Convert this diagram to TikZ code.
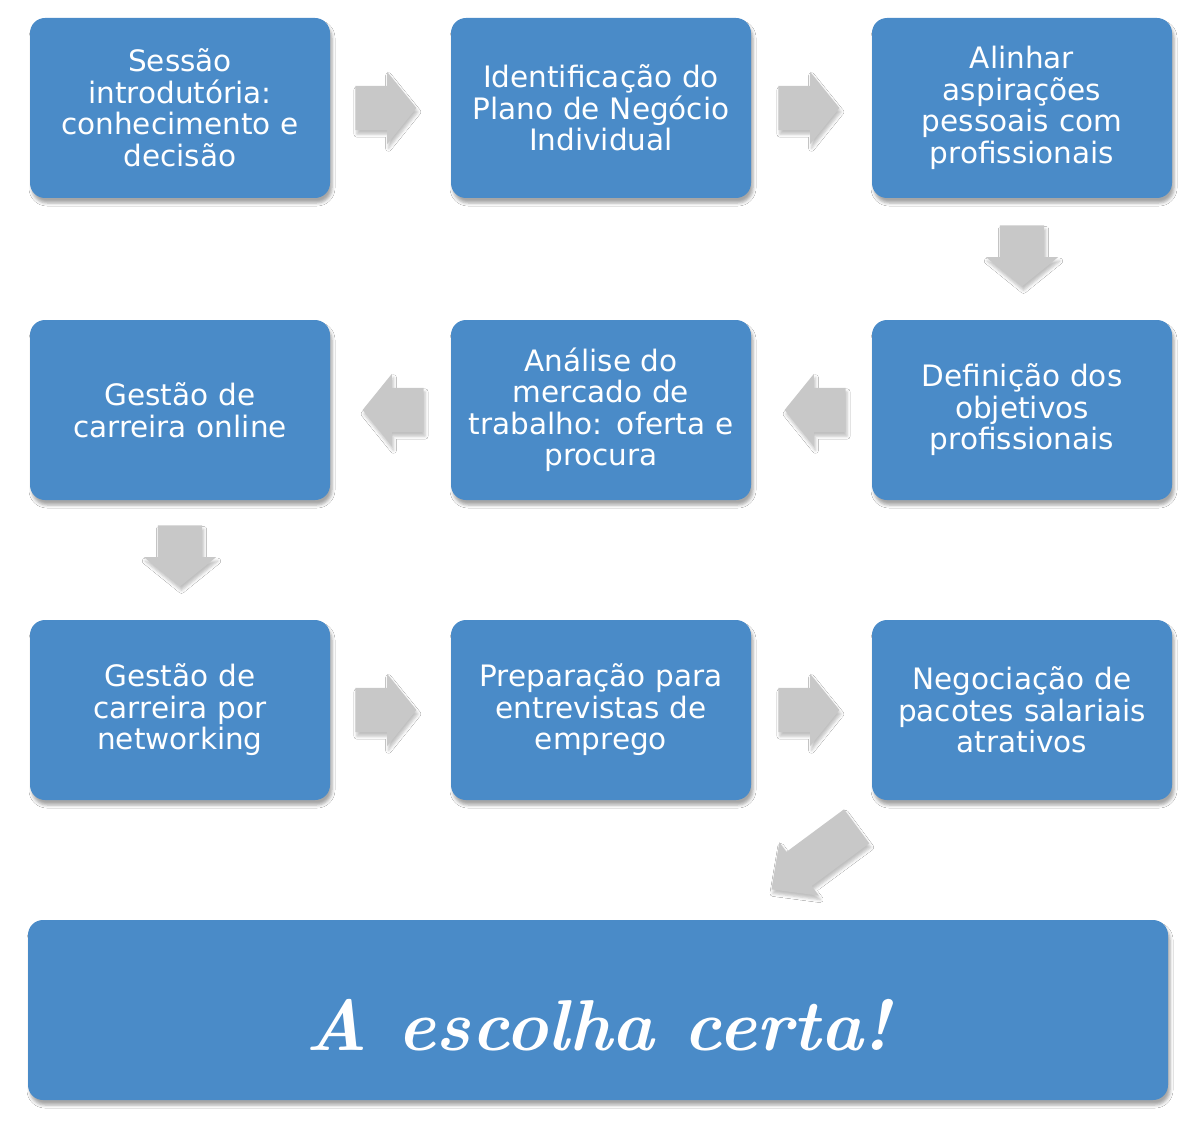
\documentclass[tikz,border=0pt]{standalone}
\usepackage{fontspec}
\setmainfont{DejaVu Sans}
\newfontfamily\handfont{Latin Modern Roman}
\usetikzlibrary{shapes.arrows,shadows.blur,calc}
\definecolor{boxblue}{HTML}{4A8BC8}
\definecolor{arrowgray}{HTML}{C8C8C8}
\tikzset{
  stepbox/.style={rectangle, rounded corners=15pt, fill=boxblue,
    minimum width=300pt, minimum height=180pt, text width=286pt,
    inner sep=0pt, align=center, text=white,
    font=\fontsize{29.5}{31.5}\selectfont,
    blur shadow={shadow xshift=2pt, shadow yshift=-5pt,
      shadow blur radius=3pt, shadow opacity=35}},
  flowarrow/.style={single arrow, fill=arrowgray, draw=none, anchor=tail,
    minimum height=61pt, inner xsep=0pt, inner ysep=22pt,
    single arrow head extend=14pt, single arrow tip angle=102,
    blur shadow={shadow xshift=1.5pt, shadow yshift=-4pt,
      shadow blur radius=3pt, shadow opacity=25}},
  bigtext/.style={text=white, inner sep=0pt,
    font=\handfont\bfseries\itshape\fontsize{72}{72}\selectfont}
}
\begin{document}
\begin{tikzpicture}[x=1pt,y=-1pt]
\fill[white] (0,0) rectangle (1196,1134);
\useasboundingbox (0,0) rectangle (1196,1134);

% row 1
\node[stepbox] (b1) at (180,108) {Sessão\\introdutória:\\conhecimento e\\decisão};
\node[stepbox] (b2) at (601,108) {Identificação do\\Plano de Negócio\\Individual};
\node[stepbox] (b3) at (1022,108) {Alinhar\\aspirações\\pessoais com\\profissionais};
% row 2
\node[stepbox] (b5) at (1022,410) {Definição dos\\objetivos\\profissionais};
\node[stepbox] (b6) at (601,410) {Análise do\\mercado de\\trabalho: oferta e\\procura};
\node[stepbox] (b7) at (180,410) {Gestão de\\carreira online};
% row 3
\node[stepbox] (b8) at (180,710) {Gestão de\\carreira por\\networking};
\node[stepbox] (b9) at (601,710) {Preparação para\\entrevistas de\\emprego};
\node[stepbox] (b10) at (1022,710) {Negociação de\\pacotes salariais\\atrativos};
% final
\node[stepbox, minimum width=1140pt, text width=1100pt] (final) at (598,1010) {};
\node[bigtext, anchor=base] (finaltext) at ($(final.center)+(0,40)$) {A escolha certa!};

% arrows
\node[flowarrow] (a12) at ($(b1.east)+(25,0)$) {};
\node[flowarrow] (a23) at ($(b2.east)+(27,0)$) {};
\node[flowarrow, rotate=-90] (a35) at ($(b3.south)+(0,27)$) {};
\node[flowarrow, rotate=180] (a56) at ($(b5.west)+(-26,0)$) {};
\node[flowarrow, rotate=180] (a67) at ($(b6.west)+(-27,0)$) {};
\node[flowarrow, rotate=-90] (a78) at ($(b7.south)+(0,25)$) {};
\node[flowarrow] (a89) at ($(b8.east)+(25,0)$) {};
\node[flowarrow] (a910) at ($(b9.east)+(27,0)$) {};
\node[flowarrow, minimum height=106pt, inner ysep=21pt,
  single arrow head extend=12pt, single arrow tip angle=88,
  rotate=216.5] (a10f) at ($(b10.south west)+(-15,26)$) {};
\end{tikzpicture}
\end{document}
